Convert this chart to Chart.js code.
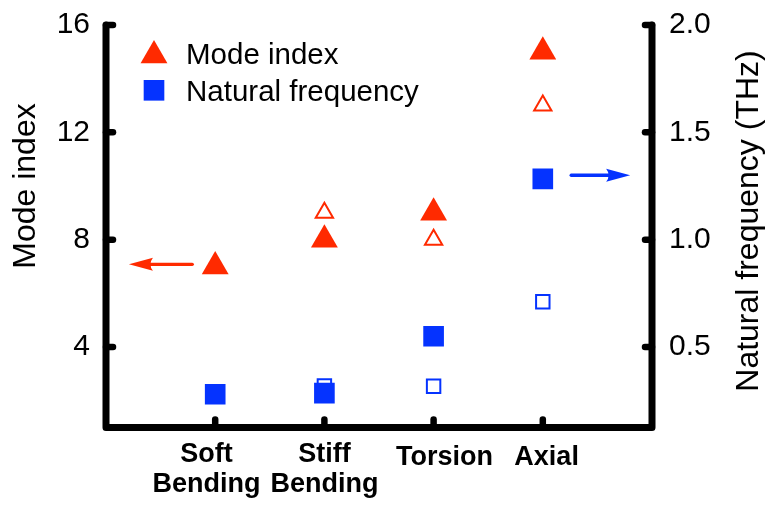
<!DOCTYPE html>
<html>
<head>
<meta charset="utf-8">
<script src="https://cdn.jsdelivr.net/npm/chart.js@4.4.1/dist/chart.umd.min.js"></script>
<style>
  body { margin: 0; background: #fff; }
  canvas { display: block; }
</style>
</head>
<body>
<canvas id="modes" width="770" height="508"></canvas>
<script>
const categories = [['Soft', 'Bending'], ['Stiff', 'Bending'], ['Torsion'], ['Axial']];
const categoryX = [1, 2, 3, 4];
const labelX = [0.92, 2.0, 3.1, 4.035];

const modeIndex = [7, 8, 9, 15];
const modeIndexOpen = [null, 9, 8, 13];
const naturalFreq = [0.28, 0.285, 0.55, 1.283];
const naturalFreqOpen = [null, 0.318, 0.317, 0.711];

const modeTicks = [4, 8, 12, 16];
const freqTicks = [0.5, 1.0, 1.5, 2.0];

// arrows: [y value, x start, x tip]
const modeArrow = [7.08, 0.79, 0.21];
const freqArrow = [1.3, 4.26, 4.8];

const RED = '#ff2a00';
const BLUE = '#0533ff';
const FONT = '"Liberation Sans", Arial, sans-serif';

function points(values) {
    var pts = [];
    for (var i = 0; i < values.length; i++) {
        if (values[i] !== null) pts.push({ x: categoryX[i], y: values[i] });
    }
    return pts;
}

function drawArrow(ctx, x1, y, x2, color) {
    var dir = x2 > x1 ? 1 : -1;
    var headLen = 24, headHalf = 6.5;
    ctx.strokeStyle = color;
    ctx.fillStyle = color;
    ctx.lineWidth = 3.3;
    ctx.lineCap = 'round';
    ctx.beginPath();
    ctx.moveTo(x1, y);
    ctx.lineTo(x2 - dir * (headLen - 4), y);
    ctx.stroke();
    ctx.beginPath();
    ctx.moveTo(x2, y);
    ctx.lineTo(x2 - dir * headLen, y - headHalf);
    ctx.quadraticCurveTo(x2 - dir * (headLen - 5), y, x2 - dir * headLen, y + headHalf);
    ctx.closePath();
    ctx.fill();
}

function line(ctx, x1, y1, x2, y2) {
    ctx.beginPath();
    ctx.moveTo(x1, y1);
    ctx.lineTo(x2, y2);
    ctx.stroke();
}

// keep the plot box fixed: no extra room reserved for the end tick labels
function fixWidth(w) {
    return function (scale) {
        scale.width = w;
        scale.paddingTop = 0;
        scale.paddingBottom = 0;
    };
}

const framePlugin = {
    id: 'frame',
    afterDatasetsDraw(chart) {
        var ctx = chart.ctx;
        var a = chart.chartArea;
        var xs = chart.scales.x, ys = chart.scales.y, fs = chart.scales.y1;
        ctx.save();

        //Arrows
        drawArrow(ctx, xs.getPixelForValue(modeArrow[1]), ys.getPixelForValue(modeArrow[0]), xs.getPixelForValue(modeArrow[2]), RED);
        drawArrow(ctx, xs.getPixelForValue(freqArrow[1]), fs.getPixelForValue(freqArrow[0]), xs.getPixelForValue(freqArrow[2]), BLUE);

        //Axis frame
        ctx.strokeStyle = 'black';
        ctx.lineWidth = 7;
        ctx.lineJoin = 'round';
        ctx.lineCap = 'round';
        ctx.beginPath();
        ctx.moveTo(a.left, a.top);
        ctx.lineTo(a.left, a.bottom);
        ctx.lineTo(a.right, a.bottom);
        ctx.lineTo(a.right, a.top);
        ctx.stroke();

        //Inward ticks
        ctx.lineWidth = 6.5;
        modeTicks.forEach(function (v) {
            var y = ys.getPixelForValue(v);
            line(ctx, a.left, y, a.left + 7, y);
        });
        freqTicks.forEach(function (v) {
            var y = fs.getPixelForValue(v);
            line(ctx, a.right, y, a.right - 7, y);
        });
        categoryX.forEach(function (v) {
            var x = xs.getPixelForValue(v);
            line(ctx, x, a.bottom, x, a.bottom - 8);
        });

        //Category labels
        ctx.fillStyle = 'black';
        ctx.font = 'bold 27px ' + FONT;
        ctx.textAlign = 'center';
        ctx.textBaseline = 'alphabetic';
        for (var i = 0; i < categories.length; i++) {
            var x = xs.getPixelForValue(labelX[i]);
            var words = categories[i];
            if (words.length == 1) {
                ctx.fillText(words[0], x, a.bottom + 37.5);
            } else {
                ctx.fillText(words[0], x, a.bottom + 34.5);
                ctx.fillText(words[1], x, a.bottom + 64.5);
            }
        }

        //Axis titles
        ctx.font = '32px ' + FONT;
        ctx.save();
        ctx.translate(a.left - 71, 186);
        ctx.rotate(-Math.PI / 2);
        ctx.fillText('Mode index', 0, 0);
        ctx.restore();
        ctx.save();
        ctx.translate(a.right + 105.5, 221);
        ctx.rotate(-Math.PI / 2);
        ctx.fillText('Natural frequency (THz)', 0, 0);
        ctx.restore();

        //Legend
        var lx = a.left + 48;
        ctx.fillStyle = RED;
        Chart.helpers.drawPoint(ctx, { pointStyle: 'triangle', radius: 15.5, rotation: 0, borderWidth: 0 }, lx, a.top + 30.5);
        ctx.fillStyle = BLUE;
        Chart.helpers.drawPoint(ctx, { pointStyle: 'rect', radius: 14.6, rotation: 0, borderWidth: 0 }, lx, a.top + 65.3);
        ctx.fillStyle = 'black';
        ctx.font = '29.5px ' + FONT;
        ctx.textAlign = 'left';
        ctx.fillText('Mode index', a.left + 80, a.top + 39.3);
        ctx.fillText('Natural frequency', a.left + 80, a.top + 76);

        ctx.restore();
    }
};

var ctx = document.getElementById('modes').getContext('2d');
new Chart(ctx, {
    type: 'scatter',
    data: {
        datasets: [{
            label: 'Mode index',
            data: points(modeIndex),
            yAxisID: 'y',
            pointStyle: 'triangle',
            pointRadius: 15.5,
            pointBackgroundColor: RED,
            pointBorderWidth: 0
        }, {
            label: 'Natural frequency',
            data: points(naturalFreq),
            yAxisID: 'y1',
            pointStyle: 'rect',
            pointRadius: 14.6,
            pointBackgroundColor: BLUE,
            pointBorderWidth: 0
        }, {
            label: 'Mode index (open)',
            data: points(modeIndexOpen),
            yAxisID: 'y',
            pointStyle: 'triangle',
            pointRadius: 10,
            pointBackgroundColor: 'rgba(0,0,0,0)',
            pointBorderColor: RED,
            pointBorderWidth: 2
        }, {
            label: 'Natural frequency (open)',
            data: points(naturalFreqOpen),
            yAxisID: 'y1',
            pointStyle: 'rect',
            pointRadius: 9.5,
            pointBackgroundColor: 'rgba(0,0,0,0)',
            pointBorderColor: BLUE,
            pointBorderWidth: 2
        }]
    },
    options: {
        responsive: false,
        animation: false,
        events: [],
        layout: { padding: { top: 25, left: 0, right: 0, bottom: 0 } },
        plugins: {
            legend: { display: false },
            tooltip: { enabled: false }
        },
        scales: {
            x: {
                type: 'linear',
                min: 0,
                max: 5,
                grid: { display: false, drawTicks: false },
                border: { display: false },
                ticks: { display: false },
                afterFit: function (scale) { scale.height = 80.5; }
            },
            y: {
                position: 'left',
                min: 1,
                max: 16,
                grid: { display: false, drawTicks: false },
                border: { display: false },
                afterBuildTicks: function (scale) {
                    scale.ticks = modeTicks.map(function (v) { return { value: v }; });
                },
                ticks: {
                    padding: 16,
                    color: 'black',
                    font: { family: FONT, size: 30 }
                },
                afterFit: fixWidth(106)
            },
            y1: {
                position: 'right',
                min: 0.125,
                max: 2.0,
                grid: { display: false, drawTicks: false },
                border: { display: false },
                afterBuildTicks: function (scale) {
                    scale.ticks = freqTicks.map(function (v) { return { value: v }; });
                },
                ticks: {
                    padding: 17,
                    color: 'black',
                    font: { family: FONT, size: 30 },
                    callback: function (v) { return Number(v).toFixed(1); }
                },
                afterFit: fixWidth(118)
            }
        }
    },
    plugins: [framePlugin]
});
</script>
</body>
</html>
